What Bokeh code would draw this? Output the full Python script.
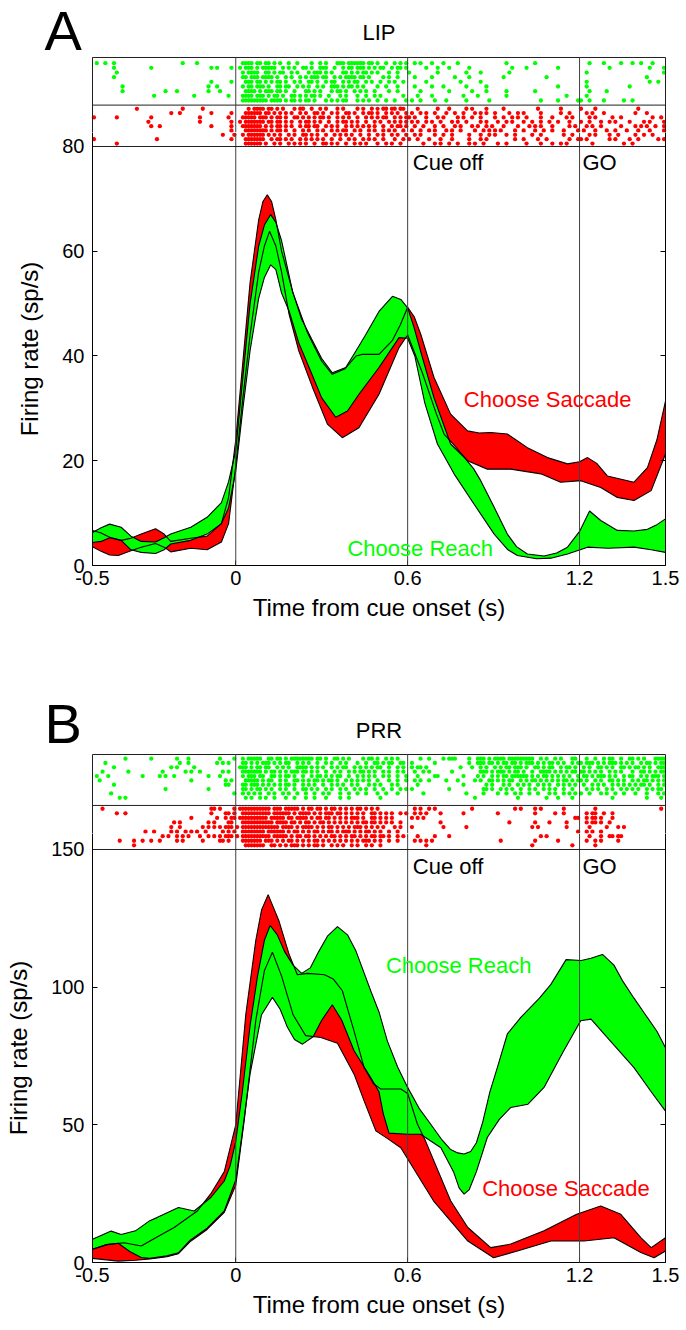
from bokeh.plotting import figure
from bokeh.layouts import column
from bokeh.models import Span, Label, FixedTicker, LinearAxis, Range1d
from bokeh.embed import file_html
from bokeh.resources import INLINE

FONT = "Liberation Sans"
RED = "#ff0000"
GREEN = "#00ff00"

# ---------------- LIP (panel A) band edges: time (s), firing rate (sp/s) ----------------
lip_t_reach_up = [-0.5, -0.47, -0.44, -0.4, -0.366, -0.33, -0.28, -0.25, -0.227, -0.157, -0.1, -0.05, -0.025, 0.0, 0.025, 0.05, 0.08, 0.1, 0.122, 0.14, 0.16, 0.198, 0.23, 0.268, 0.3, 0.337, 0.384, 0.42, 0.454, 0.5, 0.547, 0.576, 0.6, 0.622, 0.65, 0.692, 0.75, 0.8, 0.83, 0.855, 0.902, 0.948, 0.98, 1.018, 1.076, 1.12, 1.158, 1.2, 1.235, 1.274, 1.332, 1.39, 1.437, 1.47, 1.5]
lip_v_reach_up = [6.3, 7.2, 7.9, 7.3, 5.6, 4.6, 4.5, 5.3, 6.0, 7.3, 9.2, 12.0, 16.0, 22.0, 36.0, 50.0, 61.0, 65.0, 67.0, 65.5, 62.0, 52.4, 47.0, 42.9, 39.5, 36.8, 37.8, 41.0, 44.1, 48.5, 51.4, 50.8, 49.2, 45.5, 40.0, 32.0, 23.2, 20.5, 18.5, 16.2, 11.1, 6.0, 3.6, 2.2, 1.8, 2.4, 3.5, 6.5, 10.4, 8.6, 6.7, 6.6, 6.9, 7.8, 8.9]
lip_t_reach_lo = [-0.5, -0.47, -0.44, -0.4, -0.366, -0.33, -0.28, -0.25, -0.227, -0.157, -0.1, -0.05, -0.025, 0.0, 0.025, 0.05, 0.08, 0.1, 0.122, 0.14, 0.16, 0.186, 0.22, 0.256, 0.3, 0.349, 0.39, 0.43, 0.5, 0.57, 0.6, 0.625, 0.66, 0.704, 0.762, 0.832, 0.902, 0.95, 0.983, 1.05, 1.1, 1.158, 1.228, 1.3, 1.39, 1.45, 1.5]
lip_v_reach_lo = [4.4, 4.6, 5.3, 4.8, 3.0, 2.5, 2.3, 3.0, 4.1, 4.8, 6.0, 8.0, 11.0, 18.0, 30.0, 41.0, 51.0, 55.0, 57.4, 56.5, 52.0, 48.6, 42.5, 37.8, 32.0, 28.3, 29.5, 32.7, 37.8, 43.5, 43.4, 40.0, 31.0, 23.2, 17.5, 11.7, 6.0, 3.0, 1.9, 1.3, 1.4, 2.2, 3.5, 3.3, 3.5, 3.0, 2.5]
lip_t_sacc_up = [-0.5, -0.47, -0.44, -0.4, -0.366, -0.33, -0.28, -0.25, -0.227, -0.157, -0.1, -0.05, -0.025, 0.0, 0.025, 0.05, 0.08, 0.095, 0.11, 0.125, 0.14, 0.16, 0.2, 0.25, 0.3, 0.337, 0.38, 0.42, 0.44, 0.5, 0.547, 0.575, 0.6, 0.623, 0.646, 0.692, 0.75, 0.809, 0.85, 0.89, 0.948, 1.018, 1.088, 1.158, 1.2, 1.228, 1.26, 1.297, 1.39, 1.437, 1.47, 1.5]
lip_v_sacc_up = [6.7, 6.2, 5.4, 4.8, 5.2, 6.0, 7.0, 6.0, 4.6, 5.2, 5.6, 8.0, 13.0, 24.0, 39.0, 54.0, 66.0, 69.5, 70.8, 69.5, 66.0, 60.0, 52.0, 44.5, 39.0, 36.5, 37.5, 40.0, 40.3, 40.3, 43.0, 46.0, 49.3, 47.5, 44.1, 35.9, 28.9, 25.7, 25.3, 25.4, 25.1, 22.5, 20.6, 19.4, 19.8, 20.6, 19.5, 17.1, 15.9, 18.7, 24.0, 31.4]
lip_t_sacc_lo = [-0.5, -0.47, -0.44, -0.41, -0.366, -0.33, -0.28, -0.25, -0.227, -0.157, -0.1, -0.05, -0.025, 0.0, 0.025, 0.05, 0.08, 0.1, 0.118, 0.14, 0.16, 0.186, 0.22, 0.268, 0.32, 0.372, 0.43, 0.5, 0.57, 0.6, 0.65, 0.7, 0.727, 0.762, 0.809, 0.878, 0.96, 1.065, 1.134, 1.204, 1.274, 1.332, 1.39, 1.45, 1.5]
lip_v_sacc_lo = [3.6, 2.7, 2.0, 1.9, 2.8, 3.5, 4.2, 3.5, 2.6, 3.3, 3.0, 4.5, 8.0, 19.0, 32.0, 44.0, 56.0, 61.0, 63.8, 61.0, 56.0, 48.0, 41.0, 34.0, 27.0, 24.4, 26.3, 32.7, 41.6, 44.0, 37.0, 29.0, 25.1, 23.0, 20.0, 18.4, 18.4, 17.5, 15.9, 16.2, 14.9, 13.0, 12.4, 14.3, 21.3]

# ---------------- PRR (panel B) band edges ----------------
prr_t_reach_up = [-0.5, -0.435, -0.4, -0.35, -0.3, -0.275, -0.2, -0.145, -0.087, -0.04, -0.02, 0.0, 0.023, 0.05, 0.076, 0.1, 0.12, 0.145, 0.17, 0.2, 0.23, 0.26, 0.29, 0.32, 0.355, 0.39, 0.42, 0.471, 0.5, 0.529, 0.565, 0.6, 0.64, 0.68, 0.72, 0.75, 0.775, 0.797, 0.82, 0.84, 0.862, 0.887, 0.913, 0.948, 0.995, 1.06, 1.1, 1.153, 1.206, 1.24, 1.28, 1.32, 1.352, 1.39, 1.43, 1.47, 1.5]
prr_v_reach_up = [8.4, 11.4, 10.2, 11.5, 15.2, 16.3, 20.0, 18.7, 23.6, 29.6, 35.0, 44.0, 62.0, 86.0, 104.0, 117.0, 122.4, 119.0, 113.0, 108.0, 105.0, 107.0, 113.0, 118.5, 122.0, 119.0, 113.0, 98.7, 91.0, 80.5, 71.0, 63.6, 56.0, 50.3, 44.5, 41.0, 39.8, 39.4, 40.3, 43.5, 51.0, 62.0, 70.8, 83.0, 89.0, 96.0, 101.0, 110.0, 109.7, 110.5, 111.9, 108.0, 102.0, 96.0, 90.0, 84.0, 78.0]
prr_t_reach_lo = [-0.5, -0.45, -0.41, -0.37, -0.33, -0.3, -0.24, -0.2, -0.16, -0.1, -0.04, 0.0, 0.02, 0.05, 0.09, 0.128, 0.155, 0.18, 0.205, 0.233, 0.27, 0.3, 0.337, 0.37, 0.413, 0.471, 0.5, 0.515, 0.535, 0.6, 0.645, 0.716, 0.76, 0.78, 0.797, 0.815, 0.84, 0.878, 0.92, 0.96, 1.02, 1.076, 1.14, 1.204, 1.24, 1.297, 1.39, 1.45, 1.5]
prr_v_reach_lo = [4.8, 6.5, 7.0, 4.0, 1.8, 1.5, 2.4, 3.5, 8.0, 12.5, 18.7, 30.0, 45.0, 68.5, 90.0, 96.3, 92.0, 85.5, 81.0, 79.3, 82.0, 88.0, 93.6, 88.0, 76.9, 67.2, 62.0, 54.0, 47.0, 46.6, 46.6, 41.7, 33.0, 27.0, 24.8, 26.5, 33.0, 45.4, 52.0, 56.3, 57.5, 63.6, 76.0, 87.8, 88.4, 81.7, 70.8, 62.0, 55.0]
prr_t_sacc_up = [-0.5, -0.45, -0.39, -0.33, -0.27, -0.215, -0.134, -0.087, -0.04, 0.0, 0.035, 0.07, 0.09, 0.113, 0.151, 0.186, 0.215, 0.25, 0.31, 0.34, 0.372, 0.413, 0.448, 0.48, 0.506, 0.576, 0.6, 0.634, 0.663, 0.75, 0.81, 0.89, 0.96, 1.076, 1.19, 1.274, 1.344, 1.414, 1.45, 1.5]
prr_v_sacc_up = [4.8, 6.5, 7.2, 6.0, 9.5, 12.7, 18.7, 25.0, 33.0, 50.0, 90.0, 117.0, 128.0, 133.6, 124.0, 112.0, 104.5, 105.0, 104.5, 103.0, 98.7, 84.0, 70.8, 65.0, 63.0, 63.0, 61.4, 50.3, 44.0, 22.4, 12.7, 5.4, 6.7, 11.5, 17.5, 20.5, 17.5, 9.0, 5.4, 9.0]
prr_t_sacc_lo = [-0.5, -0.41, -0.35, -0.3, -0.24, -0.2, -0.16, -0.1, -0.04, 0.0, 0.03, 0.07, 0.1, 0.128, 0.16, 0.2, 0.244, 0.297, 0.355, 0.413, 0.448, 0.489, 0.53, 0.576, 0.69, 0.81, 0.9, 0.983, 1.1, 1.216, 1.32, 1.414, 1.46, 1.5]
prr_v_sacc_lo = [1.5, 0.5, 0.8, 1.3, 2.1, 3.2, 7.5, 12.0, 18.2, 28.0, 52.0, 88.0, 106.0, 112.7, 104.0, 90.0, 82.4, 81.7, 79.6, 68.4, 58.7, 47.8, 45.0, 41.7, 22.4, 7.8, 1.7, 4.2, 7.8, 7.8, 9.0, 3.6, 1.7, 4.2]

# ---------------- spike rasters: one string per trial, 10 ms bins, 'x' = spike ----------------
# segments (space separated): -0.5..0 s (50 bins), 0..0.6 s (60), 0.6..1.2 s (60), 1.2..1.5 s (30)
lip_reach_trials = [
    ".x..x..x.......................x....x............. ..xxxx.xx.xx.x.x..x..x....x..x.x...xxx.xxxxxx.xx.x..x..x.x.x ..x.x...x...x....x................x.........x............... ...x....x.....x...x..x...x....",
    ".......x............x....................x.x....x. .x.xxx.x.xxxxx..x.x.x..xx.x..xxx..x..x.xx.xxx.x.x.xx..x.xx.x ......x...x...x......x..............x....x..........x....... ..........x.............x....x",
    "........x......................................... ..x.xxxx..xx.x.xx..x.x...x.xxx.x.x...xx.x.x.xx.x.x...x..x.... x.........x.........x....x.........x........................ ..x..........................x",
    ".......x.......................................... ..xx.xxx.xxxx.x..x.x..x.x.xxx.xx..x.x.xxxx.xx.x....x.x..x.... ..x.....x.......x....x...........x..............x........... .......................x......",
    ".........................................x......x. ...xxx.xx.x.x.xx.x..x.x..xx.x..x.xx..x.x.xx..x.x..x..x.x..x.. ......x...........x......x..................................x ..x.....................x..x..",
    "..........x.............................x..x...... ..x.xx.xxx.x..xx.xx..x.x.x..x.x..xxx.x.xx.x.x....x..x...x.... ..x.....x...x.......x......x........................x....... ..x..............x............",
    "..........x..............x...x..........x...x..... ...xxxx.x.xxx.xx.x..x...xx.x.x...x.xx.x..x.x.x..x....x..x.... ....x.........x.......x....x......x.........x............... ...x.....x....................",
    ".....................x.............x...........x.. ..xxxx.xxx.x.xx.x..xx.x.x.xx.x..x...x.x...x..x..x.x.......x.. ...x....x..........x....x.........x....................x.... ..x...........................",
    ".................................................. ..xxxxxxxxx.xxxx.x.xx.x.xx.x...x.x.x.xx...x.x.x..x..x..x...x. .x..x....x...x......x.......x.................x.....x......x x..x....x......x..x...........",
]
lip_sacc_trials = [
    "...............x...............x......x........... ....x.xxxx.xx.x.x...x.xx..x..x.x...x.x....x.x..x.x.xx.xx.xx.x ...x......x...x.....x.x....x.....x...........x.......x...... x....x..............x.........",
    "...........................x..x..........x......x. ...xxxxxx.xx.x.x.x.x..x.x..xx.x..x.x..xx.x..x.xx.x..x.x.x..xx .x..x.x..x...x..x..x...x.x.x..x....x..x.x.....x......x..x... ..x.x...x..........x...x......",
    "x.......x...........x................x.........x.. ..xxxxx.xxx.x.xx.x..xx.x.x.x.xx.x..x.x.x..x..x.x.x.xx..x.x.x. x.x...x...x.x....x.x..x..x....x..x..x.x..x....x...x....x.x.. ...x.x.....x..x..........x..x.",
    "...................x.................x..........x. .x.xxxxxxx.xx.xx.x.x..x.xx.x.x..x..x.xx.x.x..x..x.x..x.x.x.x. .x.x..x.x..x...x.x..x....x.x...x..x.x...x..x..x..x..x...x... x..x...x..x.x....x....x.x....x",
    "....................x..x.................x......x. ..xxxxxxx.x.x.xx.x.x..x.xx.xx..x.x.x..x.x.x.x.x.x..x..x.xx.x. ..x..x...x..x...x.x...x.x..x.x...x....x...x.x.x...x.....x.x. ..x.x..x......x....x.x.x..x..x",
    "................................................x. ...xxxxxxxx.x.xx.x..x..x.x..x.x..x.x.xx..x.x..x.x..x.x.x..x.x .x..x..x.x...x.x..x....x..x.x.x.x....x..x...x..x..x...x....x .x...x...x..x...x...x...x....x",
    ".............................................x...x ..x.xxxxxx.x.x.x..x.x..xx.x.x..x..x.x.x.x..x..x..x.x..x.x..x. ..x.x....x..x..x.....x...x..x.x...x..x.....x..x.......x..x.. ...x.x....x..x.....x..x..x....",
    "x.....................x.........................x. ...xxxxxxx..x.xx.x.x..x.x.x.x.x..x..x..x.x..x.x.x..x...x..x.. x..x...x...x...x.....x...x.x.........x..x....x..x.......x..x x.x.......x.x....x..x......x.x",
    "........x......................................... ...xxxxxx.x..x.x..x.x.x.x..x..xx.x.x..x..x.x.x...x..x.x..x... .....x...x.x..x..x...x.x..x....x..x......x....x...x..x.x.... ....x..........x..x...........",
]
prr_reach_trials = [
    "...........x........x........x...x..........x....x ..x.xxxxx..xx.xx.x.xxxxxxxx.xx.x..xx.x.x....x.xx.x..x.x.x... ....x..x....x.xxx....x..xxx.x.xxxx.xxxxxxxxx..x.x..x.x...xx. ..x..x..x.xx..x..xx.x.x...xxxx",
    "....x.........................x..x.........x.x.x.. ..xx.x.x.xxx.x.x.xx..x.x.x..x..x.x..x.x...x..x..xx.x.xx..xx.x .x.......x...........x..xxx.xx.x.xx.xx.x.xxx.x.x.xx.x.x..x.x x.xxx.x.x.xxx.x.x.x..x.xx.x.xx",
    ".......x...................x.x.....x..............x .xxx.x.xx.xx..x.x.x..xxxx.x.x.x..x.x.xx..x.x.x.x.xx..x..x.x.. .x.xx.x...........x...x..x.x..x.x.xx.xxx.x..xx.x.xx..x.xx.x. .x.x..xx.x.x..xx.x.xx.x.x..xxx",
    "...x........x...........x.......x.x..x.......x.x.. ..xxxxxxx.x.xx.x.x.xxx.xx.x.x..x..x.x..x.x.xx.x.x..x.x..x.x.. ..x..x.x.......x.........xxx.x.xxx.x.xx.x..x..xxxx.x.x.x.xx.x xx.x.x.x..x.x.x...x..xx.x.x.xx",
    ".x...x...........x.....x.x..x...........x...x..... ..x.xxx.xx..xx.x.xx.x..x..x.xx.x.x.xx..x..x.x.x.x..x.x..x..x. ...x.....xx........x....x.x..x.x.xx.xxxxxx.x.x.xx.x.x.x.x..x. .xx.x.xxx.x.x..x.xx..x.x.xxx.x",
    "..x...............................x...........x.x. ...xxxxx.x.xx..x.x..xx.x.x.xx.x.xx.x..x.x.x.x.x..x...x..x..x.. ..x.x..x.....x...x.....x.x..xx.x.x.xx..x.x.xx.x.x.x.x.xx.x.x x.x..x.x..xx.x.x..x.x.xx.x.x.x",
    ".......x......................................xx.. ..xx.xxx.x.x.x.x.xx.x..x.x.x..x..x.x.x..x.x...x.x.x...x.x.... ...x...............x.......x.x...x.x..x.x.x..x.x.x..x.x.x.x. .x..x.x.x..x.x.x.x.x.xx.x..x.x",
    ".........................x..............x......... ..xx.x.xx.x.x..x.x..x..xx.x.x..x.x..x.x..x.x.x..x..x..x..x.x. .x............x...........xx.x..x.x.x..x..x.x..x.x.x..x..x.. ..x.x.x..x.x..x.x.x.x..x.x.xx.",
    "......x..........................................x ..x.x.x.x..x.x..x.x..x..x..x..x.x...x..x..x..x...x..x...x.... .....x..............x.....x....x..x..x.x..x..x...x.x..x.x.x.. x..x...x.x..x..x...x...x...x.x",
    ".........x.x...................................... ...x.x..x.x..x...x..x...x..x...x....x..x..........x.......... .......................x..............x.........x...x....x.. ...........x...........x....x.",
]
prr_sacc_trials = [
    "...x.....................................xx.x....x .xxxxxxxxxxx.xxx.xxxxx.x.xx.xx.x.xx.x.x.x.xx.x.x.x........... ..x.x..x.x............x..............x.x....x.x.......x..... .....x......................x.",
    "........x..x.............................x....xx.x. ..xxxxxxxxxx.xxxxxx.x.xxxx.x.x.xxx.xx.x.x.x.x..xx.x.x.x..x.x ..x.x.x....x.......x...........x............x......x..x..... ..x.xx..x..x..................",
    "..................................x........x..x.xx .xxxxxxxxxx.xxxxx.xx.xxxx.x.xx.xx.x.x.x.xxx.x..xx.x.x.x...... .x.x.x....................................................xx ..x.xx.x...x..................",
    "............................x.x.........x.x....xx. ..xxxxxxxxxxx.xxxx.xx.x.xx.x.xx.x.x.x.x.x.x.xx.xx.x.x.x..x... ...........x.......................x........x....x.....x.... ..x.xx.x..x...................",
    "...........................x..x.......x.x.x.x.xxx. x.xxxxxxxxxxxxx.xxxx.x.xxxx.x.x.xx.x.x.x.xxx.x.x.x.x...x.x..x .x..........x.......x......................x.x.........x.... ...x.....x...x.x..............",
    "..................x..x.....x.x..x.x.x..x.....x.x.x ..xxxxxxxx.xxxxxx.x.xx.x.x.xx.x.xx.x.xxx.x.x.xx.x.x..x..x...x. ...........................................................x ..x.x..x......................",
    "........................x.x..x.x.x...x..x.x.x.xxx. x.xxxxxxxxxx.xxxxx.x.xx.xx.x.x.x.xx.x.x.xx.x.x.xx.xx.x..x.x.x ...x.....x....x...............................x.x........... ...x...x..xx.xx...............",
    ".........x....x..x..x..x.....x.x......x.....xx.x.. ..xxxxxxx.xxx.x.x.xx.x.x.x.xx.x.x.x.x.x.x.x.xxx.x.x..x..x.... ..x.x.x.x.......................x...........x.......x....... ..x..x.x.....x................",
    "..............x................................... ...xxxxxxx..xx.x.x.xxx.x.x.xx.x..x.x.x..x.x..x.x..x.......... ......x....................................x.............x.. .....x........................",
]

SEG_START = [-0.5, 0.0, 0.6, 1.2]
SEG_LEN = [50, 60, 60, 30]
BIN = 0.01
EVENTS = [0.0, 0.6, 1.2]
PX_PER_S = 286.5          # frame width 573 px over 2 s
LEFT, RIGHT = 92, 21      # frame borders (px)


def spike_times(row):
    out = []
    for k, seg in enumerate(row.split()[:4]):
        for i, ch in enumerate(seg[:SEG_LEN[k]]):
            if ch == "x":
                out.append(SEG_START[k] + BIN * i + BIN / 2)
    return out


def raster_xy(trials, top, step):
    xs, ys = [], []
    for i, row in enumerate(trials):
        ts = spike_times(row)
        xs += ts
        ys += [top - step * i] * len(ts)
    return xs, ys


def draw_raster(p, c):
    gx, gy = raster_xy(c["reach_trials"], c["g_top"], c["g_step"])
    rx, ry = raster_xy(c["sacc_trials"], c["r_top"], c["r_step"])
    p.scatter(gx, gy, size=4.3, marker="circle", fill_color=GREEN, line_color=None)
    p.scatter(rx, ry, size=4.3, marker="circle", fill_color=RED, line_color=None)


def top_panel(c, scale):
    """Letter, title and the upper part of the raster box; frame covers the whole canvas."""
    h = c["top_h"]
    vb = c["ytop"]
    vt = vb + h / scale
    x0 = -0.5 - LEFT / PX_PER_S
    x1 = 1.5 + RIGHT / PX_PER_S
    p = figure(width=686, height=h, x_range=Range1d(x0, x1), y_range=Range1d(vb, vt),
               output_backend="svg", toolbar_location=None, frame_align=False,
               min_border_left=0, min_border_right=0, min_border_top=0, min_border_bottom=0)
    p.axis.visible = False
    p.grid.visible = False
    p.outline_line_color = None
    draw_raster(p, c)
    bt = c["box_top"]
    p.segment(x0=[-0.5, -0.5, 1.5, -0.5], y0=[bt, vb, vb, c["sep"]],
              x1=[1.5, -0.5, 1.5, 1.5], y1=[bt, bt, bt, c["sep"]],
              line_color="#202020", line_width=1)
    p.segment(x0=EVENTS, y0=[vb] * 3, x1=EVENTS, y1=[bt] * 3, line_color="#404040", line_width=1)
    lx, ly = c["letter_px"]
    p.add_layout(Label(x=x0 + lx / PX_PER_S, y=vt - ly / scale, text=c["letter"], text_font=FONT,
                       text_font_size="56px", text_color="black", text_baseline="middle"))
    p.add_layout(Label(x=0.5, y=vt - c["title_px"] / scale, text=c["title"], text_font=FONT,
                       text_font_size="22px", text_color="black", text_align="center",
                       text_baseline="middle"))
    return p


def main(c):
    p = figure(width=686, height=c["h"], x_range=Range1d(-0.5, 1.5), y_range=Range1d(0, c["ytop"]),
               output_backend="svg", toolbar_location=None,
               min_border_left=LEFT, min_border_right=RIGHT, min_border_top=0, min_border_bottom=c["bb"])
    p.grid.visible = False
    p.outline_line_color = None

    draw_raster(p, c)

    def band(tu, vu, tl, vl, col):
        assert len(tu) == len(vu) and len(tl) == len(vl)
        p.patch(list(tu) + list(tl)[::-1], list(vu) + list(vl)[::-1], fill_color=col, line_color=None)

    band(c["su_t"], c["su_v"], c["sl_t"], c["sl_v"], RED)
    band(c["ru_t"], c["ru_v"], c["rl_t"], c["rl_v"], GREEN)
    for tk, vk in (("su_t", "su_v"), ("sl_t", "sl_v"), ("ru_t", "ru_v"), ("rl_t", "rl_v")):
        p.line(c[tk], c[vk], line_color="black", line_width=1.1)

    for t in EVENTS:
        p.add_layout(Span(location=t, dimension="height", line_color="#404040", line_width=1))
    p.add_layout(Span(location=c["base"], dimension="width", line_color="#202020", line_width=1))

    p.xaxis.ticker = FixedTicker(ticks=[-0.5, 0, 0.6, 1.2, 1.5])
    p.xaxis.major_label_overrides = {-0.5: "-0.5", 0: "0", 0.6: "0.6", 1.2: "1.2", 1.5: "1.5"}
    p.xaxis.axis_label = "Time from cue onset (s)"
    p.yaxis.ticker = FixedTicker(ticks=c["yticks"])
    p.yaxis.axis_label = "Firing rate (sp/s)"
    for ax in (p.xaxis[0], p.yaxis[0]):
        ax.major_tick_in = 5
        ax.major_tick_out = 0
        ax.minor_tick_line_color = None
        ax.axis_line_color = "black"
        ax.major_tick_line_color = "black"
        ax.major_label_text_font = FONT
        ax.major_label_text_font_size = "20px"
        ax.major_label_text_color = "black"
        ax.axis_label_text_font = FONT
        ax.axis_label_text_font_size = "24px"
        ax.axis_label_text_font_style = "normal"
        ax.axis_label_text_color = "black"
    p.xaxis.major_label_standoff = 5
    p.xaxis.axis_label_standoff = 6
    p.yaxis.major_label_standoff = 8
    p.yaxis.axis_label_standoff = 16
    ra = LinearAxis(ticker=FixedTicker(ticks=c["yticks"]), major_label_text_color=None,
                    major_label_text_font_size="8px", major_tick_in=5, major_tick_out=0,
                    minor_tick_line_color=None, axis_line_color="black", major_label_standoff=0)
    p.add_layout(ra, "right")

    def lab(x, y, text, color="black"):
        p.add_layout(Label(x=x, y=y, text=text, text_font=FONT, text_font_size="22px",
                           text_color=color, text_align="left", text_baseline="middle"))

    lab(0.618, c["ev_y"], "Cue off")
    lab(1.21, c["ev_y"], "GO")
    lab(c["sacc_txt"][0], c["sacc_txt"][1], "Choose Saccade", RED)
    lab(c["reach_txt"][0], c["reach_txt"][1], "Choose Reach", GREEN)
    return p


# panel A: main frame 0..82.67 (433 px), upper panel 132 px; panel B: 0..155.81 (429 px), upper 168 px
lip = dict(h=533, bb=100, ytop=82.67, top_h=132, yticks=[0, 20, 40, 60, 80], base=80, sep=87.9,
           box_top=96.99, letter="A", letter_px=(44, 30), title="LIP", title_px=32,
           reach_trials=lip_reach_trials, sacc_trials=lip_sacc_trials,
           g_top=95.9, g_step=0.89, r_top=87.2, r_step=0.83,
           su_t=lip_t_sacc_up, su_v=lip_v_sacc_up, sl_t=lip_t_sacc_lo, sl_v=lip_v_sacc_lo,
           ru_t=lip_t_reach_up, ru_v=lip_v_reach_up, rl_t=lip_t_reach_lo, rl_v=lip_v_reach_lo,
           ev_y=77.0, sacc_txt=(0.796, 31.6), reach_txt=(0.39, 3.3))

prr = dict(h=497, bb=68, ytop=155.81, top_h=168, yticks=[0, 50, 100, 150], base=150, sep=166,
           box_top=184.5, letter="B", letter_px=(44, 57.5), title="PRR", title_px=65,
           reach_trials=prr_reach_trials, sacc_trials=prr_sacc_trials,
           g_top=183.0, g_step=1.58, r_top=164.8, r_step=1.66,
           su_t=prr_t_sacc_up, su_v=prr_v_sacc_up, sl_t=prr_t_sacc_lo, sl_v=prr_v_sacc_lo,
           ru_t=prr_t_reach_up, ru_v=prr_v_reach_up, rl_t=prr_t_reach_lo, rl_v=prr_v_reach_lo,
           ev_y=143.8, sacc_txt=(0.86, 26.9), reach_txt=(0.524, 107.7))

figs = []
for cfg in (lip, prr):
    scale = (cfg["h"] - cfg["bb"]) / cfg["ytop"]
    figs.append(top_panel(cfg, scale))
    figs.append(main(cfg))

layout = column(*figs, spacing=0)

open("out.html", "w").write(file_html(layout, INLINE))
